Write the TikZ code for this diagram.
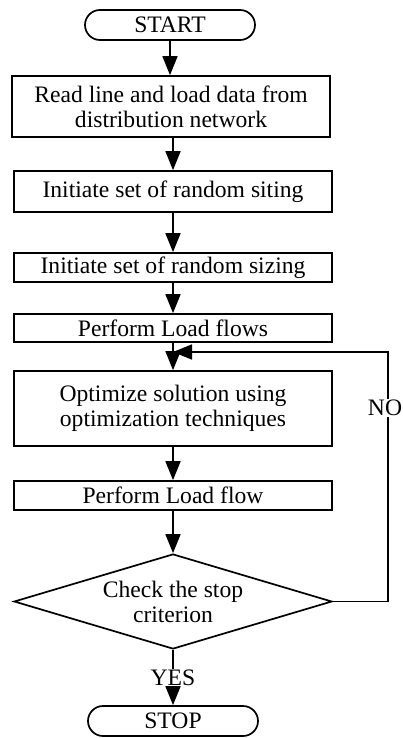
\documentclass[tikz,border=0pt]{standalone}
\usepackage{fontspec}
\setmainfont{Liberation Serif}
\usetikzlibrary{arrows.meta,shapes.geometric}
\begin{document}
\begin{tikzpicture}[x=1pt,y=-1pt,
  every node/.style={font=\fontsize{23.6}{25}\selectfont},
  proc/.style={draw,line width=1.7pt,minimum width=318pt,inner sep=0pt,align=center},
  term/.style={draw,line width=1.7pt,rounded corners=15pt,minimum width=170pt,minimum height=30pt,inner sep=0pt},
  decide/.style={draw,diamond,line width=1.7pt,minimum width=318pt,minimum height=95pt,aspect=3.35,inner sep=0pt,align=center},
  flow/.style={line width=1.7pt,-{Triangle[width=15pt,length=19pt]}},
  tag/.style={fill=white,inner sep=1pt}]
\useasboundingbox (0,0) rectangle (403,738);

% process chain
\node[term] (start) at (170,25) {START};
\node[proc,minimum height=61pt] (b1) at (171,106.5) {Read line and load data from\\distribution network};
\node[proc,minimum height=41pt] (b2) at (173,191.5) {Initiate set of random siting};
\node[proc,minimum height=29pt] (b3) at (173,267.5) {Initiate set of random sizing};
\node[proc,minimum height=28pt] (b4) at (173,328) {Perform Load flows};
\node[proc,minimum height=75pt] (b5) at (173,408.5) {Optimize solution using\\optimization techniques};
\node[proc,minimum height=29pt] (b6) at (173,495.5) {Perform Load flow};
\node[decide] (dec) at (173,601.5) {Check the stop\\criterion};
\node[term] (stop) at (173,721) {STOP};

% loop-back points
\coordinate (join) at (173,352);
\coordinate (rail) at (388,352);

% connectors
\draw[flow] (start.south) -- (start.south |- b1.north);
\draw[flow] (b1.south -| b2.north) -- (b2.north);
\draw[flow] (b2) -- (b3);
\draw[flow] (b3) -- (b4);
\draw[flow] (b4) -- (b5);
\draw[flow] (b5) -- (b6);
\draw[flow] (b6) -- (dec);
\draw[flow] (dec.south) -- node[tag]{YES} (stop.north);
\draw[flow] (dec.east) -- (dec.east -| rail) -- node[tag,pos=0.776,xshift=-3pt]{NO} (rail) -- (join);
\end{tikzpicture}
\end{document}
